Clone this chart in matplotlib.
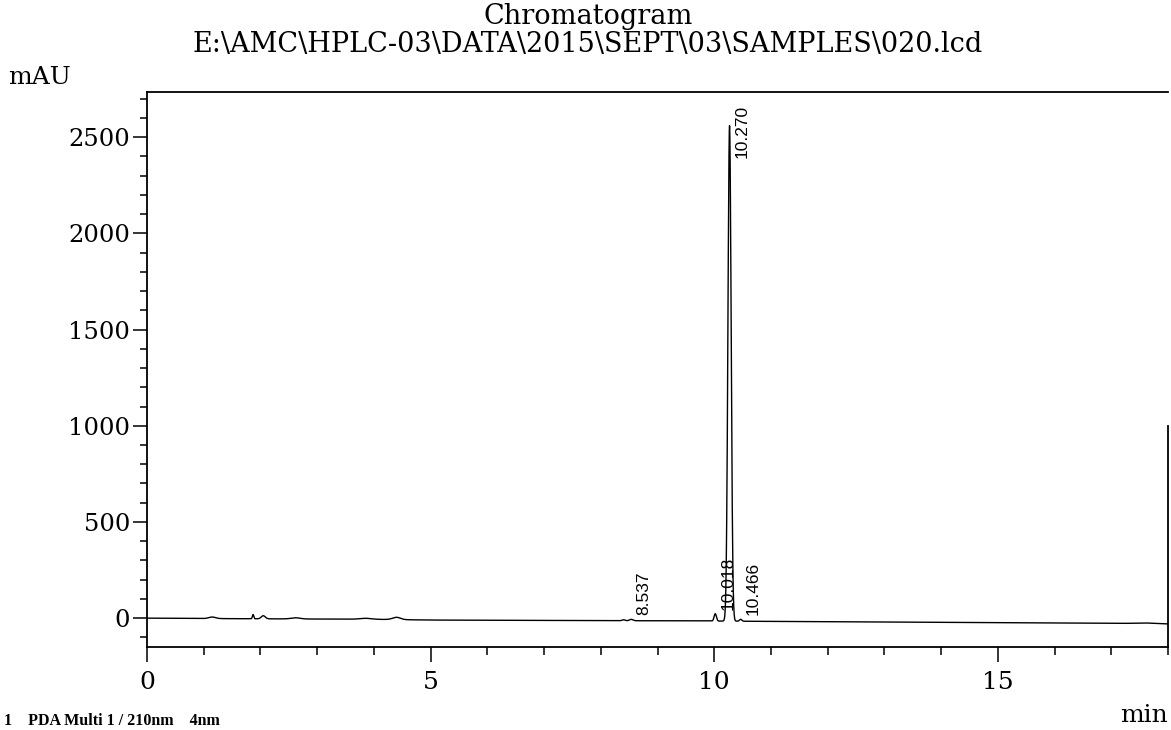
import numpy as np
import matplotlib.pyplot as plt
from matplotlib.ticker import MultipleLocator, FixedLocator

# ---- text ----
title_line1 = "Chromatogram"
title_line2 = r"E:\AMC\HPLC-03\DATA\2015\SEPT\03\SAMPLES\020.lcd"
y_unit = "mAU"
x_unit = "min"
channel_note = "1    PDA Multi 1 / 210nm    4nm"

# ---- axes ranges and ticks ----
x_range = [0, 18]
y_range = [-150, 2735]
x_major = [0, 5, 10, 15]
y_major = [0, 500, 1000, 1500, 2000, 2500]

# ---- baseline drift (min, mAU) ----
baseline_t = [0.0, 1.0, 2.5, 4.0, 5.0, 6.5, 8.0, 9.5, 11.0, 13.0, 15.0, 16.5, 17.3, 17.6, 18.0]
baseline_v = [0, -2, -4, -6, -10, -11, -13, -14, -17, -20, -23, -26, -27, -25, -30]

# ---- peaks: retention time (min), height above baseline (mAU), sigma (min) ----
peak_rt = [1.15, 1.87, 2.05, 2.62, 3.85, 4.40, 8.40, 8.537, 10.018, 10.270, 10.466]
peak_height = [8, 22, 16, 6, 5, 12, 5, 7, 38, 2575, 10]
peak_sigma = [0.06, 0.012, 0.035, 0.08, 0.10, 0.07, 0.025, 0.03, 0.02, 0.028, 0.02]

# integrated peaks that carry a retention-time label
labeled_rt = ["8.537", "10.018", "10.270", "10.466"]

SERIF = ["DejaVu Serif"]
SANS = ["Liberation Sans", "DejaVu Sans"]

W, H = 1171, 730
fig = plt.figure(figsize=(W / 100, H / 100), dpi=100)
left, right, top, bottom = 147, 1168, 92, 647
ax = fig.add_axes([left / W, 1 - bottom / H, (right - left) / W, (bottom - top) / H])

# detector trace
t = np.linspace(x_range[0], x_range[1], 9001)
signal = np.interp(t, baseline_t, baseline_v).astype(float)
for rt, h, s in zip(peak_rt, peak_height, peak_sigma):
    signal += h * np.exp(-0.5 * ((t - rt) / s) ** 2)
ax.plot(t, signal, color="black", lw=1.0, solid_joinstyle="round")

ax.set_xlim(*x_range)
ax.set_ylim(*y_range)

# ticks
ax.xaxis.set_major_locator(FixedLocator(x_major))
ax.xaxis.set_minor_locator(MultipleLocator(1))
ax.yaxis.set_major_locator(FixedLocator(y_major))
ax.yaxis.set_minor_locator(MultipleLocator(100))
ax.tick_params(axis="both", which="both", direction="out", width=1.1, color="black")
ax.tick_params(axis="x", which="major", length=11, pad=6, labelsize=18)
ax.tick_params(axis="x", which="minor", length=6)
ax.tick_params(axis="y", which="major", length=10, pad=2, labelsize=17.5)
ax.tick_params(axis="y", which="minor", length=5)
ax.tick_params(top=False, right=False)
for lab in ax.get_xticklabels() + ax.get_yticklabels():
    lab.set_family(SERIF)

for side in ["left", "bottom", "top", "right"]:
    ax.spines[side].set_linewidth(1.3)
    ax.spines[side].set_color("black")
ax.spines["right"].set_bounds(y_range[0], 1000)

# retention-time labels beside each integrated peak
for lab in labeled_rt:
    rt = float(lab)
    apex = float(np.interp(rt, t, signal))
    if apex > 0.8 * y_range[1]:
        ax.annotate(lab, xy=(rt, y_range[1]), xytext=(9, -9), textcoords="offset points",
                    rotation=90, ha="center", va="top", fontsize=12.5, family=SANS)
    else:
        ax.annotate(lab, xy=(rt, apex), xytext=(9, 3), textcoords="offset points",
                    rotation=90, ha="center", va="bottom", fontsize=12.5, family=SANS)

# titles and unit captions
fig.text(588 / W, 1 - 16 / H, title_line1, ha="center", va="center", fontsize=19.5, family=SERIF)
fig.text(588 / W, 1 - 45 / H, title_line2, ha="center", va="center", fontsize=19.5, family=SERIF)
fig.text(8 / W, 1 - 78 / H, y_unit, ha="left", va="center", fontsize=18, family=SERIF)
fig.text(1168 / W, 1 - 716 / H, x_unit, ha="right", va="center", fontsize=18, family=SERIF)
fig.text(4 / W, 1 - 721 / H, channel_note, ha="left", va="center", fontsize=11.5,
         fontweight="bold", family=["Liberation Serif", "DejaVu Serif"])

fig.savefig("out.png", dpi=100, facecolor="white")
